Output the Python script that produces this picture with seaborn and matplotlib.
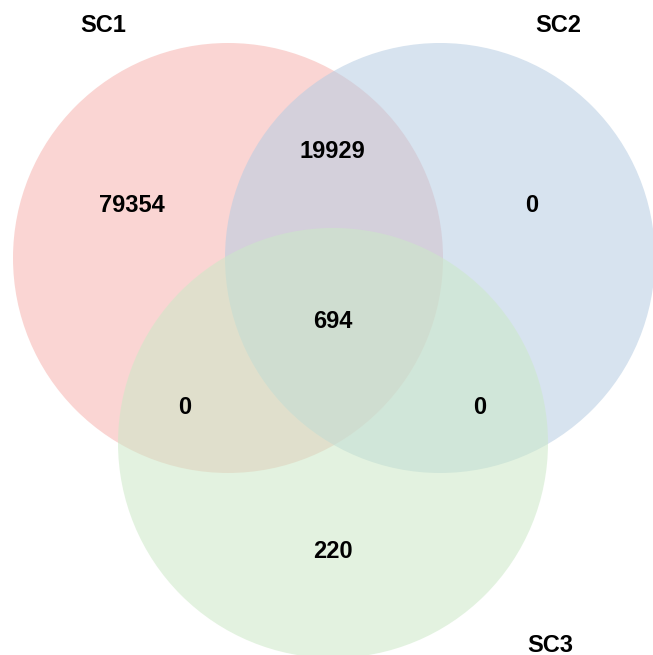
import matplotlib
matplotlib.use("Agg")
import matplotlib.pyplot as plt
from matplotlib.patches import Circle
import seaborn as sns

sns.set_theme(style="white")
plt.rcParams['font.family'] = ['Liberation Sans', 'DejaVu Sans']

# Data
sets = ["SC1", "SC2", "SC3"]
set_colors = ["#F6B4AF", "#B6CCE2", "#CCE9C7"]
region_labels = ["SC1 only", "SC1&SC2", "SC2 only", "SC1&SC2&SC3", "SC1&SC3", "SC2&SC3", "SC3 only"]
region_counts = [79354, 19929, 0, 694, 0, 0, 220]

# Layout (pixel coordinates)
centers = [(228, 258), (440, 258), (333, 443)]
radius = 215
set_label_pos = [(103, 25), (558, 25), (550, 645)]
region_pos = [(132, 205), (332, 151), (532, 206), (333, 322), (185, 408), (480, 408), (333, 552)]

W, H = 653, 655
fig = plt.figure(figsize=(W / 100, H / 100), dpi=100)
ax = fig.add_axes([0, 0, 1, 1])
ax.set_xlim(0, W)
ax.set_ylim(H, 0)
ax.axis("off")

for (cx, cy), col in zip(centers, set_colors):
    ax.add_patch(Circle((cx, cy), radius, facecolor=col, edgecolor="none", alpha=0.55))

for name, (x, y) in zip(sets, set_label_pos):
    ax.text(x, y, name, ha="center", va="center", fontsize=17, fontweight="bold", color="black")

for cnt, (x, y) in zip(region_counts, region_pos):
    ax.text(x, y, str(cnt), ha="center", va="center", fontsize=17, fontweight="bold", color="black")

fig.savefig("out.png", dpi=100)
